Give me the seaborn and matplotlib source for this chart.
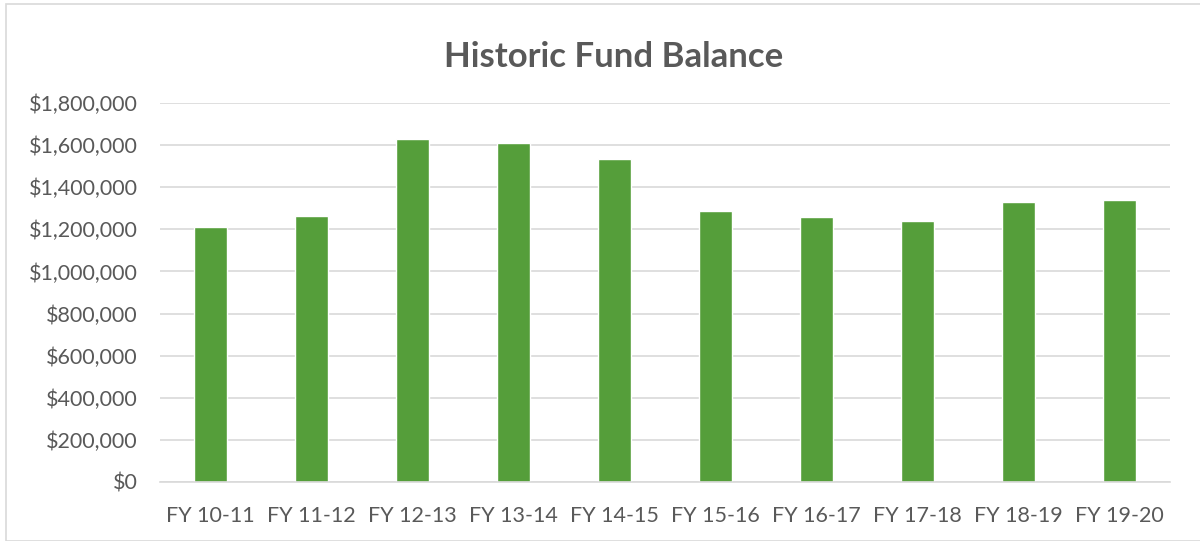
import pandas as pd
import matplotlib.pyplot as plt
import seaborn as sns
from matplotlib.ticker import FuncFormatter
from matplotlib.patches import Rectangle

years = ['FY 10-11', 'FY 11-12', 'FY 12-13', 'FY 13-14', 'FY 14-15',
         'FY 15-16', 'FY 16-17', 'FY 17-18', 'FY 18-19', 'FY 19-20']
balance = [1211000, 1264000, 1629000, 1610000, 1536000,
           1287000, 1259000, 1240000, 1330000, 1341000]

df = pd.DataFrame({'Year': years, 'Balance': balance})

sns.set_theme(style='white')
plt.rcParams['font.family'] = ['Lato', 'DejaVu Sans']

fig = plt.figure(figsize=(12, 5.41), dpi=100)
ax = fig.add_axes([160 / 1200, 1 - 482 / 541, 1010 / 1200, 379 / 541])
sns.barplot(data=df, x='Year', y='Balance', color='#559E3A', width=0.32,
            saturation=1, ax=ax)

ax.set_ylim(0, 1800000)
ax.set_yticks(range(0, 1800001, 200000))
ax.yaxis.set_major_formatter(FuncFormatter(lambda v, p: f'${v:,.0f}'))
ax.grid(axis='y', color='#D9D9D9', linewidth=1.2)
ax.set_axisbelow(True)
for s in ['top', 'right', 'left']:
    ax.spines[s].set_visible(False)
ax.spines['bottom'].set_color('#D9D9D9')
ax.spines['bottom'].set_linewidth(1.2)
ax.tick_params(axis='both', length=0, labelsize=15.5, colors='#595959')
ax.tick_params(axis='x', pad=17)
ax.tick_params(axis='y', pad=16)
ax.set_xlabel('')
ax.set_ylabel('')

fig.text(614 / 1200, 1 - 57 / 541, 'Historic Fund Balance', ha='center', va='center',
         fontsize=25, fontweight='bold', color='#595959')
fig.patches.append(Rectangle((6 / 1200, 0), 1, 1 - 4 / 541, transform=fig.transFigure,
                             fill=False, edgecolor='#D9D9D9', linewidth=1.2))

fig.savefig('out.png', dpi=100)
